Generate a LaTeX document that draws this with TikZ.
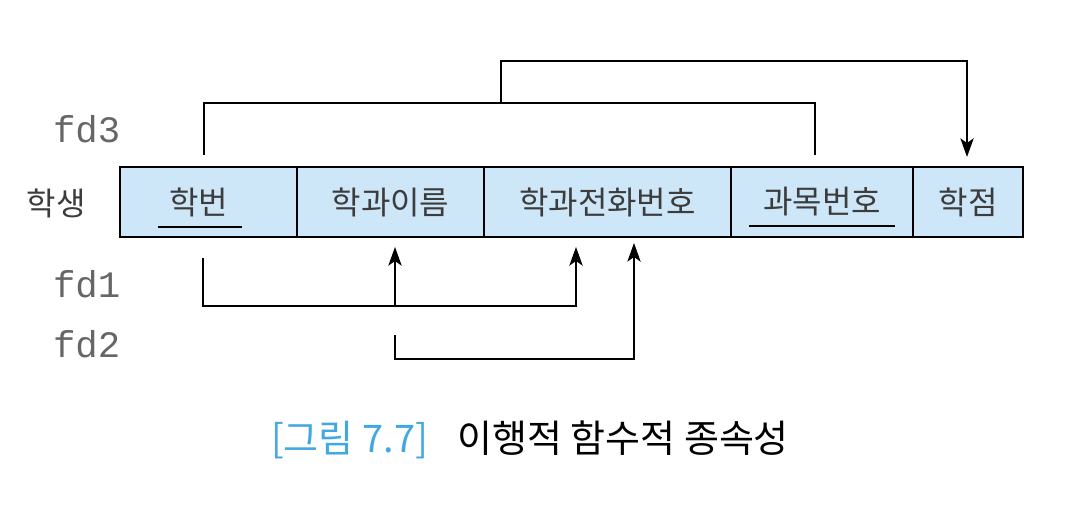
\documentclass[tikz,border=0pt]{standalone}
\usepackage{fontspec}
\newfontfamily\krfont{Noto Sans CJK KR}
\newfontfamily\fdfont{Liberation Mono}
\usetikzlibrary{arrows.meta,calc,positioning}
\definecolor{cellblue}{RGB}{206,231,248}
\definecolor{capblue}{RGB}{66,168,226}
\definecolor{txtgray}{RGB}{60,60,60}

\begin{document}
\begin{tikzpicture}[x=0.75pt,y=-0.75pt,>={Stealth[length=14pt,width=10pt,inset=3.5pt]},
  cell/.style={draw,line width=1.2pt,fill=cellblue,minimum height=52.5pt,
    inner sep=0pt,outer sep=0pt,font=\krfont\fontsize{24}{28}\selectfont,text=txtgray},
  dep/.style={line width=1.2pt},
  fdlabel/.style={anchor=base east,font=\fdfont\fontsize{28}{30}\selectfont,text=black!60}]
  \useasboundingbox (0,0) rectangle (1066,514);

  % relation row
  \node[cell,minimum width=132.75pt] (hakbeon) at (208.5,202) {\kern-15pt 학번};
  \node[cell,minimum width=140.25pt,right=0pt of hakbeon] (hakgwa) {학과이름};
  \node[cell,minimum width=185.25pt,right=0pt of hakgwa] (jeonhwa) {학과전화번호};
  \node[cell,minimum width=136.5pt,right=0pt of jeonhwa] (gwamok) {과목번호};
  \node[cell,minimum width=82.5pt,right=0pt of gwamok] (hakjeom) {학점};
  \node[font=\krfont\fontsize{24}{28}\selectfont,text=txtgray] (haksaeng) at (56,203) {학생};

  % key underlines
  \draw[dep] ($(hakbeon.center)+(-50.5,25)$) -- ($(hakbeon.center)+(33.5,25)$);
  \draw[dep] ($(gwamok.center)+(-73,24)$) -- ($(gwamok.center)+(73,24)$);

  % fd labels
  \node[fdlabel] (lblfdthree) at (125,142) {fd3};
  \node[fdlabel] (lblfdone) at (125,297) {fd1};
  \node[fdlabel] (lblfdtwo) at (125,357) {fd2};

  % fd3
  \draw[dep] ($(hakbeon.north)+(-4.5,-12)$) |- ($(gwamok.north)+(-7,-64)$)
    -- ($(gwamok.north)+(-7,-12)$);
  \coordinate (fdthree) at (501,103);
  \draw[dep,->] (fdthree) |- ($(hakjeom.north)+(-1,-106)$) -- ($(hakjeom.north)+(-1,-10)$);

  % fd1
  \draw[dep,->] ($(hakbeon.south)+(-5.5,21)$) |- ($(jeonhwa.south)+(-31.5,69)$)
    -- ($(jeonhwa.south)+(-31.5,10)$);
  \draw[dep,->] ($(hakgwa.south)+(4.5,69)$) -- ($(hakgwa.south)+(4.5,10)$);

  % fd2
  \draw[dep,->] ($(hakgwa.south)+(4.5,98)$) |- ($(jeonhwa.south)+(26.5,122)$)
    -- ($(jeonhwa.south)+(26.5,6)$);

  \node[font=\krfont\fontsize{28.5}{33}\selectfont] (caption) at (530,440)
    {\textcolor{capblue}{[그림 7.7]}\hspace{22pt}이행적 함수적 종속성};
\end{tikzpicture}
\end{document}
